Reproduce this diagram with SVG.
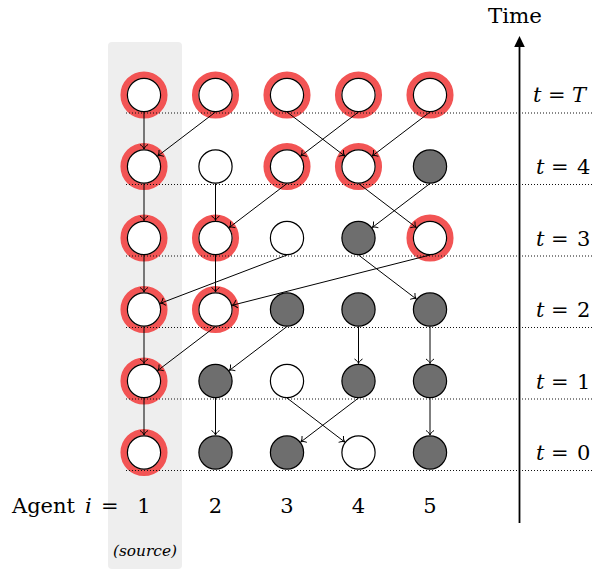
<svg xmlns="http://www.w3.org/2000/svg" width="593" height="570" viewBox="0 0 593 570">
<defs>
<style>
.ring{fill:none;stroke:#f25454;stroke-width:6.5}
.w{fill:#fff;stroke:#000;stroke-width:1.2}
.g{fill:#6e6e6e;stroke:#000;stroke-width:1.2}
.dot{stroke:#111;stroke-width:1.1;stroke-dasharray:1 2;fill:none}
.e{stroke:#000;stroke-width:1;fill:none;marker-end:url(#to)}
.it{font-style:italic}
text{font-family:"DejaVu Serif",serif}
</style>
<marker id="to" markerUnits="userSpaceOnUse" viewBox="-6 -5 7 10" refX="0" refY="0" markerWidth="7" markerHeight="10" orient="auto" overflow="visible">
<path d="M-4.5,-4 C-3,-1.6 -1.2,-0.4 0,0 C-1.2,0.4 -3,1.6 -4.5,4" fill="none" stroke="#000" stroke-width="1"/>
</marker>
</defs>
<rect x="108" y="42" width="74" height="527" rx="4" fill="#eeeeee"/>

<g id="nodes">
<g id="n1T"><circle class="ring" cx="144" cy="95" r="20.3"/><circle class="w" cx="144" cy="95" r="16.6"/></g>
<g id="n2T"><circle class="ring" cx="215.5" cy="95" r="20.3"/><circle class="w" cx="215.5" cy="95" r="16.6"/></g>
<g id="n3T"><circle class="ring" cx="287" cy="95" r="20.3"/><circle class="w" cx="287" cy="95" r="16.6"/></g>
<g id="n4T"><circle class="ring" cx="358.5" cy="95" r="20.3"/><circle class="w" cx="358.5" cy="95" r="16.6"/></g>
<g id="n5T"><circle class="ring" cx="430" cy="95" r="20.3"/><circle class="w" cx="430" cy="95" r="16.6"/></g>

<g id="n14"><circle class="ring" cx="144" cy="166.5" r="20.3"/><circle class="w" cx="144" cy="166.5" r="16.6"/></g>
<g id="n24"><circle class="w" cx="215.5" cy="166.5" r="16.6"/></g>
<g id="n34"><circle class="ring" cx="287" cy="166.5" r="20.3"/><circle class="w" cx="287" cy="166.5" r="16.6"/></g>
<g id="n44"><circle class="ring" cx="358.5" cy="166.5" r="20.3"/><circle class="w" cx="358.5" cy="166.5" r="16.6"/></g>
<g id="n54"><circle class="g" cx="430" cy="166.5" r="16.6"/></g>

<g id="n13"><circle class="ring" cx="144" cy="238" r="20.3"/><circle class="w" cx="144" cy="238" r="16.6"/></g>
<g id="n23"><circle class="ring" cx="215.5" cy="238" r="20.3"/><circle class="w" cx="215.5" cy="238" r="16.6"/></g>
<g id="n33"><circle class="w" cx="287" cy="238" r="16.6"/></g>
<g id="n43"><circle class="g" cx="358.5" cy="238" r="16.6"/></g>
<g id="n53"><circle class="ring" cx="430" cy="238" r="20.3"/><circle class="w" cx="430" cy="238" r="16.6"/></g>

<g id="n12"><circle class="ring" cx="144" cy="309.5" r="20.3"/><circle class="w" cx="144" cy="309.5" r="16.6"/></g>
<g id="n22"><circle class="ring" cx="215.5" cy="309.5" r="20.3"/><circle class="w" cx="215.5" cy="309.5" r="16.6"/></g>
<g id="n32"><circle class="g" cx="287" cy="309.5" r="16.6"/></g>
<g id="n42"><circle class="g" cx="358.5" cy="309.5" r="16.6"/></g>
<g id="n52"><circle class="g" cx="430" cy="309.5" r="16.6"/></g>

<g id="n11"><circle class="ring" cx="144" cy="381" r="20.3"/><circle class="w" cx="144" cy="381" r="16.6"/></g>
<g id="n21"><circle class="g" cx="215.5" cy="381" r="16.6"/></g>
<g id="n31"><circle class="w" cx="287" cy="381" r="16.6"/></g>
<g id="n41"><circle class="g" cx="358.5" cy="381" r="16.6"/></g>
<g id="n51"><circle class="g" cx="430" cy="381" r="16.6"/></g>

<g id="n10"><circle class="ring" cx="144" cy="452.5" r="20.3"/><circle class="w" cx="144" cy="452.5" r="16.6"/></g>
<g id="n20"><circle class="g" cx="215.5" cy="452.5" r="16.6"/></g>
<g id="n30"><circle class="g" cx="287" cy="452.5" r="16.6"/></g>
<g id="n40"><circle class="w" cx="358.5" cy="452.5" r="16.6"/></g>
<g id="n50"><circle class="g" cx="430" cy="452.5" r="16.6"/></g>
</g>

<g id="gridlines">
<line class="dot" x1="126" y1="113" x2="593" y2="113"/>
<line class="dot" x1="126" y1="184.5" x2="593" y2="184.5"/>
<line class="dot" x1="126" y1="256" x2="593" y2="256"/>
<line class="dot" x1="126" y1="327.5" x2="593" y2="327.5"/>
<line class="dot" x1="126" y1="399" x2="593" y2="399"/>
<line class="dot" x1="126" y1="470.5" x2="593" y2="470.5"/>
</g>

<g id="connectors">
<line class="e" x1="144" y1="112" x2="144" y2="149"/>
<line class="e" x1="215.5" y1="112" x2="157.9" y2="155.9"/>
<line class="e" x1="287" y1="112" x2="344.6" y2="155.9"/>
<line class="e" x1="358.5" y1="112" x2="300.9" y2="155.9"/>
<line class="e" x1="430" y1="112" x2="372.4" y2="155.9"/>

<line class="e" x1="144" y1="183.5" x2="144" y2="220.5"/>
<line class="e" x1="215.5" y1="183.5" x2="215.5" y2="220.5"/>
<line class="e" x1="287" y1="183.5" x2="229.4" y2="227.4"/>
<line class="e" x1="358.5" y1="183.5" x2="416.1" y2="227.4"/>
<line class="e" x1="430" y1="183.5" x2="372.4" y2="227.4"/>

<line class="e" x1="144" y1="255" x2="144" y2="292"/>
<line class="e" x1="215.5" y1="255" x2="215.5" y2="292"/>
<line class="e" x1="287" y1="255" x2="160.4" y2="303.3"/>
<line class="e" x1="430" y1="255" x2="232.5" y2="305.2"/>
<line class="e" x1="358.5" y1="255" x2="416.1" y2="298.9"/>

<line class="e" x1="144" y1="326.5" x2="144" y2="363.5"/>
<line class="e" x1="215.5" y1="326.5" x2="157.9" y2="370.4"/>
<line class="e" x1="287" y1="326.5" x2="229.4" y2="370.4"/>
<line class="e" x1="358.5" y1="326.5" x2="358.5" y2="363.5"/>
<line class="e" x1="430" y1="326.5" x2="430" y2="363.5"/>

<line class="e" x1="144" y1="398" x2="144" y2="435"/>
<line class="e" x1="215.5" y1="398" x2="215.5" y2="435"/>
<line class="e" x1="287" y1="398" x2="344.6" y2="441.9"/>
<line class="e" x1="358.5" y1="398" x2="300.9" y2="441.9"/>
<line class="e" x1="430" y1="398" x2="430" y2="435"/>
</g>

<g id="time-axis">
<line x1="519.5" y1="523" x2="519.5" y2="45" stroke="#000" stroke-width="1.8"/>
<polygon points="519.5,36 524.8,47 514.2,47" fill="#000"/>
<text x="515" y="23" text-anchor="middle" font-size="21" textLength="54" lengthAdjust="spacingAndGlyphs">Time</text>
</g>

<g id="time-labels" font-size="21" fill="#000">
<text y="102"><tspan class="it" x="533">t</tspan><tspan x="548">=</tspan><tspan class="it" x="572">T</tspan></text>
<text y="174"><tspan class="it" x="536">t</tspan><tspan x="551">=</tspan><tspan x="577">4</tspan></text>
<text y="246"><tspan class="it" x="536">t</tspan><tspan x="551">=</tspan><tspan x="577">3</tspan></text>
<text y="317"><tspan class="it" x="536">t</tspan><tspan x="551">=</tspan><tspan x="577">2</tspan></text>
<text y="389"><tspan class="it" x="536">t</tspan><tspan x="551">=</tspan><tspan x="577">1</tspan></text>
<text y="460"><tspan class="it" x="536">t</tspan><tspan x="551">=</tspan><tspan x="577">0</tspan></text>
</g>

<g id="agent-labels" font-size="21" fill="#000">
<text x="12" y="513" textLength="63" lengthAdjust="spacingAndGlyphs">Agent</text>
<text class="it" x="85" y="513">i</text>
<text x="101" y="513">=</text>
<text x="144" y="513" text-anchor="middle">1</text>
<text x="215.5" y="513" text-anchor="middle">2</text>
<text x="287" y="513" text-anchor="middle">3</text>
<text x="358.5" y="513" text-anchor="middle">4</text>
<text x="430" y="513" text-anchor="middle">5</text>
<text class="it" x="145" y="556" text-anchor="middle" font-size="14" textLength="64" lengthAdjust="spacingAndGlyphs">(source)</text>
</g>
</svg>
